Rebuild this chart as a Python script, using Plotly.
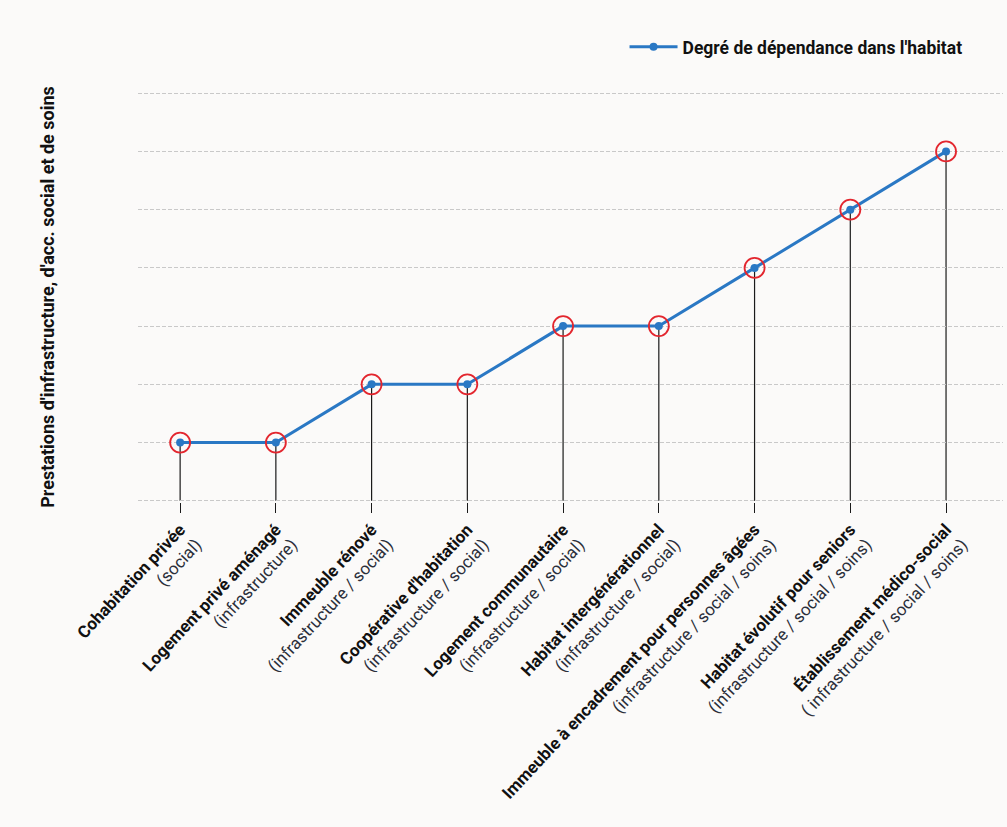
import plotly.graph_objects as go

categories = [
    "Cohabitation privée",
    "Logement privé aménagé",
    "Immeuble rénové",
    "Coopérative d'habitation",
    "Logement communautaire",
    "Habitat intergénérationnel",
    "Immeuble à encadrement pour personnes âgées",
    "Habitat évolutif pour seniors",
    "Établissement médico-social",
]
subtitles = [
    "(social)",
    "(infrastructure)",
    "(infrastructure / social)",
    "(infrastructure / social)",
    "(infrastructure / social)",
    "(infrastructure / social)",
    "(infrastructure / social / soins)",
    "(infrastructure / social / soins)",
    "( infrastructure / social / soins)",
]
values = [1, 1, 2, 2, 3, 3, 4, 5, 6]
y_ticks = [0, 1, 2, 3, 4, 5, 6, 7]

FONT = "Roboto, sans-serif"
BLUE = "#2a78c4"
RED = "#e3262e"

xs = list(range(len(categories)))
ticktext = [f"<b>{c}</b><br><span style='color:#2b2f3a'>{s}</span>" for c, s in zip(categories, subtitles)]

fig = go.Figure()

# stems
shapes = []
for x, v in zip(xs, values):
    shapes.append(dict(type="line", xref="x", yref="y", x0=x, x1=x, y0=0, y1=v,
                       line=dict(color="#1a1a1a", width=1.2), layer="below"))

fig.add_trace(go.Scatter(
    x=xs, y=values, mode="lines+markers", name="<b>Degré de dépendance dans l'habitat</b>",
    line=dict(color=BLUE, width=3), marker=dict(color=BLUE, size=8),
))
fig.add_trace(go.Scatter(
    x=xs, y=values, mode="markers", showlegend=False, hoverinfo="skip",
    marker=dict(symbol="circle-open", size=20, color=RED, line=dict(width=1.8, color=RED)),
))

fig.update_layout(
    width=1007, height=827,
    paper_bgcolor="#fbfaf9", plot_bgcolor="#fbfaf9",
    margin=dict(l=138, r=4, t=92, b=325),
    font=dict(family=FONT, size=17, color="#111111"),
    shapes=shapes,
    showlegend=True,
    legend=dict(x=0.959, xanchor="right", y=1.066, yanchor="bottom",
                orientation="h", bgcolor="rgba(0,0,0,0)", itemwidth=48,
                font=dict(size=17.5, family=FONT, color="#111111")),
    xaxis=dict(
        range=[-0.44, 8.595], tickmode="array", tickvals=xs, ticktext=ticktext,
        tickangle=-47, ticks="outside", ticklen=10, tickcolor="#1a1a1a", tickwidth=1.2,
        showgrid=False, zeroline=False, showline=False,
        tickfont=dict(size=17, family=FONT, color="#111111"),
    ),
    yaxis=dict(
        range=[-0.02, 7.02], tickmode="array", tickvals=y_ticks, showticklabels=False,
        showgrid=True, gridcolor="#c9c9c9", gridwidth=1, griddash="4px,2px",
        zeroline=False, showline=False, ticks="",
        title=dict(text="<b>Prestations d'infrastructure, d'acc. social et de soins</b>",
                   font=dict(size=18, family=FONT, color="#111111"), standoff=77),
    ),
)
fig.write_html("out.html")
